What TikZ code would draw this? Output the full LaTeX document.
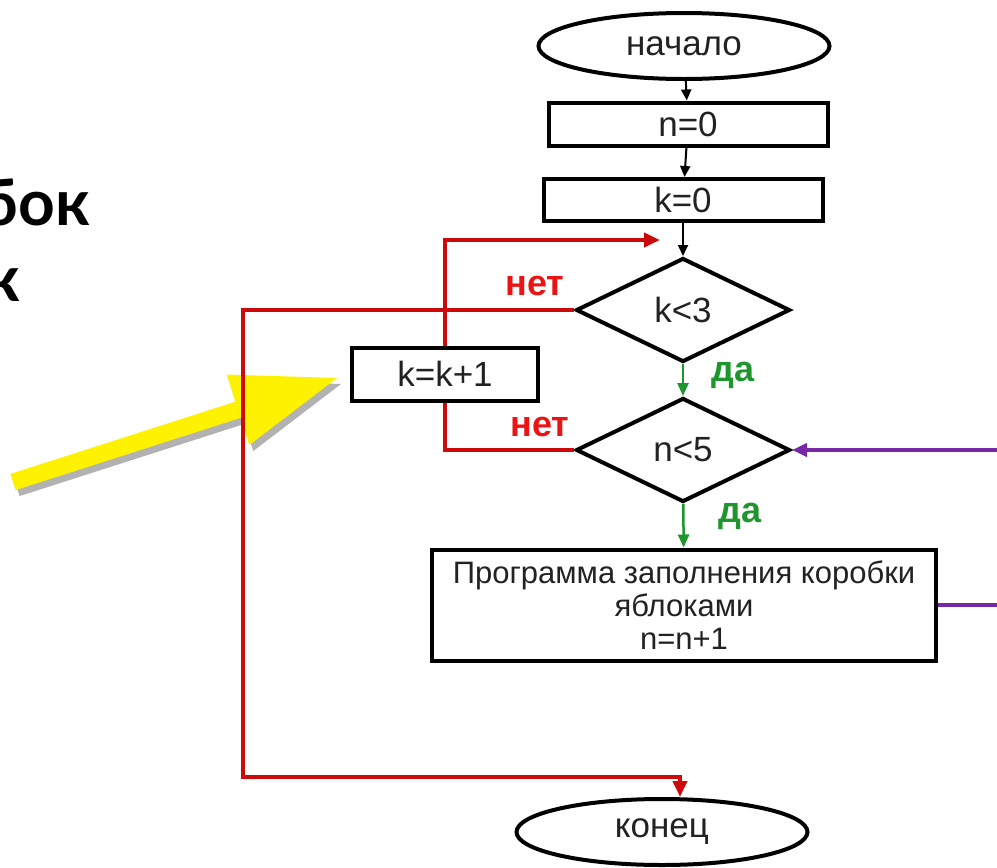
\documentclass[tikz,border=0pt]{standalone}
\usepackage{fontspec}
\setmainfont{Liberation Sans}
\newfontfamily\titlefont{Lato}
\usetikzlibrary{shapes.geometric,arrows.meta}
\definecolor{linered}{RGB}{204,10,10}
\definecolor{labelred}{RGB}{235,20,20}
\definecolor{yesgreen}{RGB}{30,150,45}
\definecolor{backpurple}{RGB}{120,40,165}
\definecolor{textgray}{RGB}{34,34,34}
\begin{document}
\begin{tikzpicture}[x=1pt, y=-1pt,
		every node/.style={font=\fontsize{35}{38}\selectfont, text=textgray},
		box/.style={draw, line width=4pt, inner sep=0pt, align=center},
		cond/.style={draw, diamond, line width=4pt, minimum width=214pt, minimum height=104pt, inner sep=0pt},
		term/.style={draw, ellipse, line width=4pt, minimum width=291pt, minimum height=66pt},
		flow/.style={line width=2pt, -{Triangle[length=11pt,width=10pt]}},
		noline/.style={draw=linered, line width=4pt},
		notip/.style={-{Triangle[length=16pt,width=14pt]}},
		yesline/.style={draw=yesgreen, line width=2.5pt, -{Triangle[length=13pt,width=11pt]}},
		backline/.style={draw=backpurple, line width=4pt, -{Triangle[length=15pt,width=13pt]}},
		nolabel/.style={text=labelred, font=\fontsize{36}{40}\selectfont\bfseries},
		yeslabel/.style={text=yesgreen, font=\fontsize{36}{40}\selectfont\bfseries},
		title/.style={text=black, font=\titlefont\fontsize{64}{72}\selectfont\bfseries, inner sep=0pt}
	]
	\useasboundingbox (0,0) rectangle (997,868);
	\clip (0,0) rectangle (997,868);

	% title, cut off at the left edge
	\node[title, anchor=base east] (title1) at (90,225) {бок};
	\node[title, anchor=base east] (title2) at (20,301) {к};

	% pointer
	\draw[line width=17pt, black, opacity=0.3, -{Triangle[length=104pt,width=74pt,line width=0pt]}] (17,488) -- (341,384);
	\draw[line width=17pt, yellow, -{Triangle[length=104pt,width=74pt,line width=0pt]}] (13,482) -- (337,378);

	% blocks
	\node[term] (start) at (684,46) {начало};
	\node[box, minimum width=279pt, minimum height=43pt] (n0) at (688,124) {n=0};
	\node[box, minimum width=279pt, minimum height=42pt] (k0) at (683,200) {k=0};
	\node[cond] (k3) at (683,310) {k<3};
	\node[cond] (n5) at (683,450) {n<5};
	\node[box, minimum width=186pt, minimum height=53pt] (kinc) at (445,374) {k=k+1};
	\node[box, minimum width=504pt, minimum height=111pt, font=\fontsize{31}{33}\selectfont] (prog) at (684,605) {Программа заполнения коробки\\яблоками\\n=n+1};
	\node[term] (stop) at (662,832) {конец};

	\coordinate (loopin) at (660,240);
	\coordinate (leftrail) at (243,777);
	\coordinate (offright) at (1010,605);

	% connectors
	\draw[flow] (start) -- (n0);
	\draw[flow] (n0) -- (k0);
	\draw[flow] (k0) -- (k3);
	\draw[yesline] (k3) -- (n5);
	\draw[yesline] (n5) -- (prog);
	\draw[noline] (n5.west) -| (kinc.south);
	\draw[noline, notip] (kinc.north) |- (loopin);
	\draw[noline, notip] (k3.west) -| (leftrail) -| ([xshift=18pt]stop.north);
	\draw[backline] (prog.east) -- (offright) |- (n5.east);

	% labels
	\node[nolabel] (no1) at (535,286) {нет};
	\node[nolabel] (no2) at (540,427) {нет};
	\node[yeslabel] (yes1) at (733,375) {да};
	\node[yeslabel] (yes2) at (740,516) {да};
\end{tikzpicture}
\end{document}
